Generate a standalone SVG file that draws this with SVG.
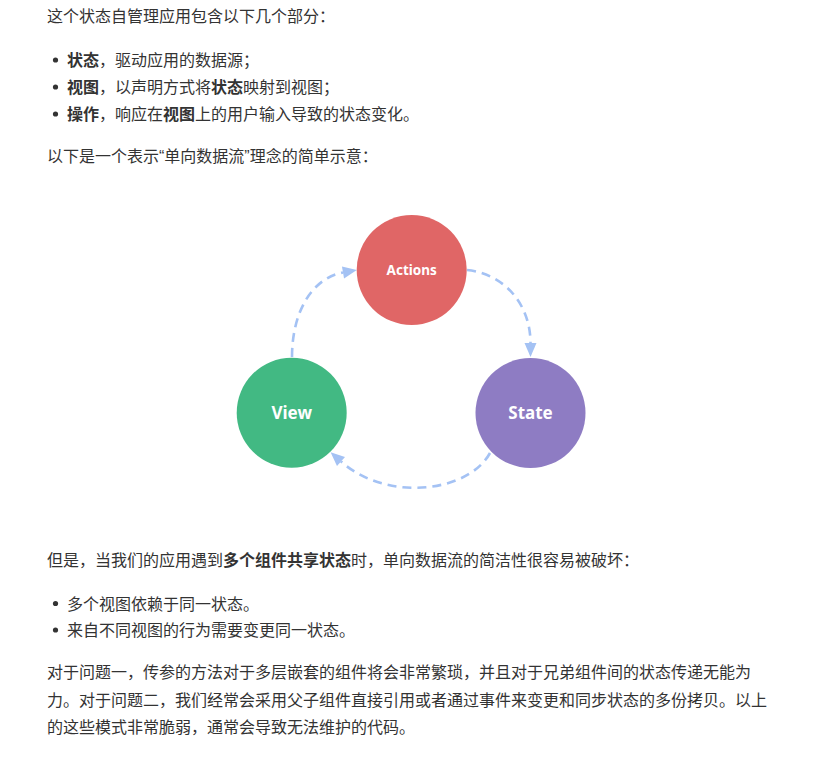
<svg xmlns="http://www.w3.org/2000/svg" width="822" height="757" viewBox="0 0 822 757">
<style>
.t{font-family:"Liberation Sans","Noto Sans CJK SC",sans-serif;font-size:16px;fill:#333333}
.b{font-weight:bold}
.dot{fill:#333333}
.node text{font-family:"Noto Sans","Liberation Sans",sans-serif;font-weight:bold;fill:#ffffff;text-anchor:middle}
.edge{fill:none;stroke:#a4c2f4;stroke-width:2.6;stroke-dasharray:9 6;marker-end:url(#ah)}
</style>
<defs>
<marker id="ah" markerUnits="userSpaceOnUse" markerWidth="16" markerHeight="14" refX="0" refY="6" orient="auto" overflow="visible">
<path d="M0,0 L14,6 L0,12 z" fill="#a4c2f4"/>
</marker>
</defs>
<rect width="822" height="757" fill="#ffffff"/>

<g id="text-top">
<text class="t" x="47" y="22">这个状态自管理应用包含以下几个部分：</text>
<circle class="dot" cx="55.5" cy="60" r="2.6"/>
<text class="t" x="67" y="66"><tspan class="b">状态</tspan>，驱动应用的数据源；</text>
<circle class="dot" cx="55.5" cy="87" r="2.6"/>
<text class="t" x="67" y="93"><tspan class="b">视图</tspan>，以声明方式将<tspan class="b">状态</tspan>映射到视图；</text>
<circle class="dot" cx="55.5" cy="114" r="2.6"/>
<text class="t" x="67" y="120"><tspan class="b">操作</tspan>，响应在<tspan class="b">视图</tspan>上的用户输入导致的状态变化。</text>
<text class="t" x="47" y="162">以下是一个表示“单向数据流”理念的简单示意：</text>
</g>

<g id="connectors">
<path class="edge" d="M292,357 C292,312 312,278 343,272.5"/>
<path class="edge" d="M467,270 C505,274 530.5,305 530.5,343"/>
<path class="edge" d="M490,453 C468,493 386,502 341,461.5"/>
</g>

<g id="node-actions" class="node">
<circle cx="411.7" cy="270" r="55" fill="#e06666"/>
<text x="411.7" y="274.8" font-size="13.5">Actions</text>
</g>
<g id="node-view" class="node">
<circle cx="291.7" cy="412.7" r="55" fill="#42b983"/>
<text x="291.7" y="419" font-size="17">View</text>
</g>
<g id="node-state" class="node">
<circle cx="530.5" cy="413" r="55" fill="#8e7cc3"/>
<text x="530.5" y="419" font-size="17">State</text>
</g>

<g id="text-bottom">
<text class="t" x="47" y="566">但是，当我们的应用遇到<tspan class="b">多个组件共享状态</tspan>时，单向数据流的简洁性很容易被破坏：</text>
<circle class="dot" cx="55.5" cy="603.5" r="2.6"/>
<text class="t" x="67" y="609.5">多个视图依赖于同一状态。</text>
<circle class="dot" cx="55.5" cy="630" r="2.6"/>
<text class="t" x="67" y="636">来自不同视图的行为需要变更同一状态。</text>
<text class="t" x="47" y="678">对于问题一，传参的方法对于多层嵌套的组件将会非常繁琐，并且对于兄弟组件间的状态传递无能为</text>
<text class="t" x="47" y="706">力。对于问题二，我们经常会采用父子组件直接引用或者通过事件来变更和同步状态的多份拷贝。以上</text>
<text class="t" x="47" y="733">的这些模式非常脆弱，通常会导致无法维护的代码。</text>
</g>
</svg>
